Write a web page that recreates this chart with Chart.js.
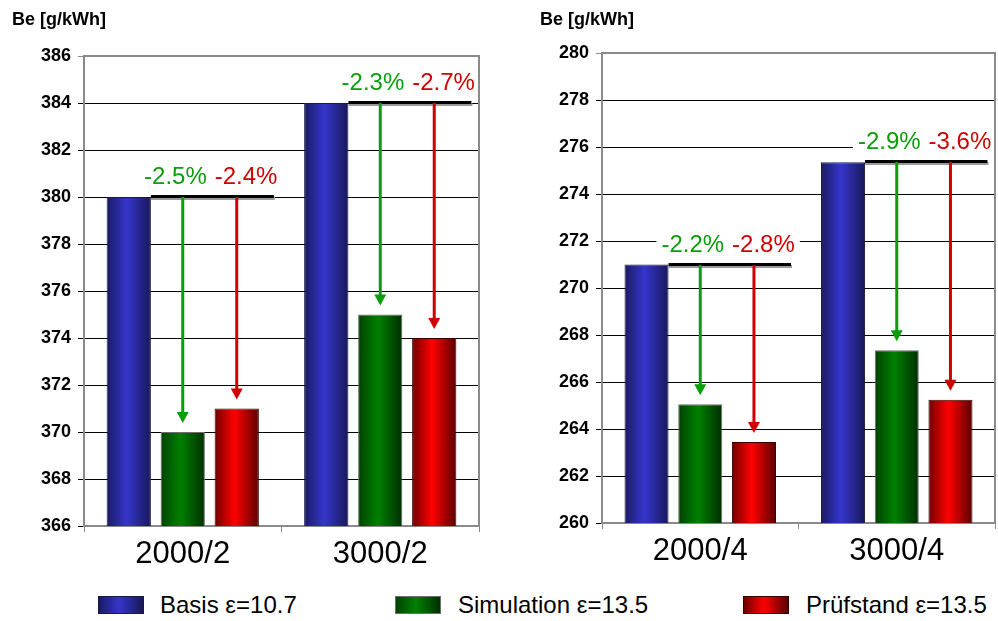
<!DOCTYPE html>
<html>
<head>
<meta charset="utf-8">
<script src="https://cdn.jsdelivr.net/npm/chart.js@4.4.1/dist/chart.umd.min.js"></script>
<style>
    body { margin: 0; background: #fff; width: 998px; height: 621px; position: relative; overflow: hidden;
           font-family: "Liberation Sans", Arial, sans-serif; }
    canvas { position: absolute; top: 0; }
    #left { left: 0; }
    #right { left: 499px; }
    .leg { position: absolute; top: 591px; font-size: 24px; color: #000; white-space: nowrap; line-height: 28px; }
    .sw { position: absolute; top: 596px; width: 44px; height: 16px; border: 1px solid #222; }
</style>
</head>
<body>
<canvas id="left" width="499" height="570"></canvas>
<canvas id="right" width="499" height="570"></canvas>
<div id="legend"></div>
<script>
// --- data ---
const seriesNames = ['Basis \u03b5=10.7', 'Simulation \u03b5=13.5', 'Pr\u00fcfstand \u03b5=13.5'];

const categoriesLeft = ['2000/2', '3000/2'];
const basisLeft = [380, 384];
const simulationLeft = [370, 375];
const pruefstandLeft = [371, 374];
const simDeltaLeft = ['-2.5%', '-2.3%'];
const pruefDeltaLeft = ['-2.4%', '-2.7%'];
const yRangeLeft = [366, 386];

const categoriesRight = ['2000/4', '3000/4'];
const basisRight = [271, 275.35];
const simulationRight = [265.05, 267.35];
const pruefstandRight = [263.45, 265.25];
const simDeltaRight = ['-2.2%', '-2.9%'];
const pruefDeltaRight = ['-2.8%', '-3.6%'];
const yRangeRight = [260, 280];

const yStep = 2;
const yTitle = 'Be [g/kWh]';

// --- style ---
const FONT = '"Liberation Sans", Arial, sans-serif';
const CAT_PCT = 0.82;
const BAR_PCT = 0.82;
const GREEN = '#0a9e0a';
const RED = '#d00000';
const shades = [
    ['#1a1a62', '#3535cc', '#18185a'],
    ['#004200', '#008000', '#002e00'],
    ['#700000', '#ff0000', '#5a0000']
];
const borders = ['#1a1a40', '#6e6e6e', '#3a0000'];

function shade(stops) {
    return function (c) {
        const xs = c.chart.scales.x;
        if (c.type !== 'data' || !xs || !xs.width) return stops[1];
        const cat = xs.width / c.chart.data.labels.length;
        const slot = cat * CAT_PCT / 3;
        const w = slot * BAR_PCT;
        const left = xs.getPixelForValue(c.dataIndex) - cat * CAT_PCT / 2 + slot * c.datasetIndex + (slot - w) / 2;
        if (!isFinite(left) || !isFinite(w)) return stops[1];
        const g = c.chart.ctx.createLinearGradient(left, 0, left + w, 0);
        g.addColorStop(0, stops[0]);
        g.addColorStop(0.45, stops[1]);
        g.addColorStop(1, stops[2]);
        return g;
    };
}

function arrow(ctx, x, y0, y1, color) {
    ctx.save();
    ctx.strokeStyle = color;
    ctx.fillStyle = color;
    ctx.lineWidth = 3;
    ctx.beginPath();
    ctx.moveTo(x, y0);
    ctx.lineTo(x, y1 - 8);
    ctx.stroke();
    ctx.beginPath();
    ctx.moveTo(x - 6, y1 - 11);
    ctx.lineTo(x + 6, y1 - 11);
    ctx.lineTo(x, y1);
    ctx.closePath();
    ctx.fill();
    ctx.restore();
}

// green text right-aligned at xg, red text left-aligned at xr, on a shared white backing
function labelPair(ctx, greenText, redText, xg, xr, y) {
    ctx.save();
    ctx.font = '24px ' + FONT;
    ctx.textBaseline = 'alphabetic';
    const wg = ctx.measureText(greenText).width;
    const wr = ctx.measureText(redText).width;
    ctx.fillStyle = '#fff';
    ctx.fillRect(xg - wg - 5, y - 18, (xr + wr) - (xg - wg) + 10, 21);
    ctx.fillStyle = GREEN;
    ctx.textAlign = 'right';
    ctx.fillText(greenText, xg, y);
    ctx.fillStyle = RED;
    ctx.textAlign = 'left';
    ctx.fillText(redText, xr, y);
    ctx.restore();
}

const deltaPlugin = {
    id: 'delta',
    afterDatasetsDraw(chart, args, opts) {
        const ctx = chart.ctx;
        const y = chart.scales.y;
        const b = chart.getDatasetMeta(0).data;
        const s = chart.getDatasetMeta(1).data;
        const p = chart.getDatasetMeta(2).data;
        b.forEach((bar, i) => {
            const ly = Math.round(y.getPixelForValue(chart.data.datasets[0].data[i]));
            const x0 = bar.x + bar.width / 2;
            const x1 = p[i].x + p[i].width / 2 + 15;
            ctx.fillStyle = '#9a9a9a';
            ctx.fillRect(x0, ly, x1 - x0 + 1, 3);
            ctx.fillStyle = '#000';
            ctx.fillRect(x0, ly - 2, x1 - x0, 3);
            arrow(ctx, s[i].x, ly, s[i].y - 9, GREEN);
            arrow(ctx, p[i].x, ly, p[i].y - 9, RED);
            const mid = (s[i].x + p[i].x) / 2;
            labelPair(ctx, opts.sim[i], opts.pruef[i], mid - 3, mid + 5, ly - 13);
        });
    },
    afterDraw(chart, args, opts) {
        const ctx = chart.ctx;
        const a = chart.chartArea;
        ctx.save();
        ctx.strokeStyle = '#8a8a8a';
        ctx.lineWidth = 2;
        ctx.beginPath();
        ctx.moveTo(a.left, a.top);
        ctx.lineTo(a.right, a.top);
        ctx.lineTo(a.right, a.bottom);
        ctx.stroke();
        ctx.fillStyle = '#000';
        ctx.font = 'bold 18px ' + FONT;
        ctx.textBaseline = 'alphabetic';
        ctx.fillText(yTitle, opts.titleX, 25);
        ctx.restore();
    }
};

function makeChart(id, labels, basis, sim, pruef, simDelta, pruefDelta, range, axisWidth, padding, titleX) {
    const values = [basis, sim, pruef];
    const chart = new Chart(document.getElementById(id), {
        type: 'bar',
        data: {
            labels: labels,
            datasets: values.map((v, k) => ({
                label: seriesNames[k],
                data: v,
                backgroundColor: shade(shades[k]),
                borderColor: borders[k],
                borderWidth: 1,
                categoryPercentage: CAT_PCT,
                barPercentage: BAR_PCT
            }))
        },
        options: {
            responsive: false,
            animation: false,
            devicePixelRatio: 1,
            layout: { padding: padding },
            plugins: {
                legend: { display: false },
                tooltip: { enabled: false },
                delta: { sim: simDelta, pruef: pruefDelta, titleX: titleX }
            },
            scales: {
                x: {
                    afterFit: s => { s.height = 44; },
                    border: { color: '#8a8a8a', width: 2 },
                    grid: { drawOnChartArea: false, tickLength: 6, color: '#8a8a8a', offset: true },
                    ticks: { color: '#000', padding: 4, font: { family: FONT, size: 31 } }
                },
                y: {
                    min: range[0],
                    max: range[1],
                    afterFit: s => { s.width = axisWidth; },
                    border: { color: '#8a8a8a', width: 2 },
                    grid: {
                        color: c => (c.tick && c.tick.value === range[1]) ? '#8a8a8a' : '#000',
                        tickLength: 6,
                        lineWidth: 1
                    },
                    ticks: { stepSize: yStep, color: '#000', padding: 7, font: { family: FONT, size: 18, weight: 'bold' } }
                }
            }
        },
        plugins: [deltaPlugin]
    });
    chart.update();
    return chart;
}

makeChart('left', categoriesLeft, basisLeft, simulationLeft, pruefstandLeft, simDeltaLeft, pruefDeltaLeft,
    yRangeLeft, 84, { top: 56, right: 20, bottom: 0, left: 0 }, 12);
makeChart('right', categoriesRight, basisRight, simulationRight, pruefstandRight, simDeltaRight, pruefDeltaRight,
    yRangeRight, 103, { top: 53, right: 3, bottom: 3, left: 0 }, 41);

// --- legend ---
const swatchLeft = [98, 395, 743];
const textLeft = [160, 458, 806];
const legend = document.getElementById('legend');
seriesNames.forEach((name, k) => {
    const sw = document.createElement('div');
    sw.className = 'sw';
    sw.style.left = swatchLeft[k] + 'px';
    sw.style.background = 'linear-gradient(to right,' + shades[k][0] + ',' + shades[k][1] + ' 45%,' + shades[k][2] + ')';
    sw.style.borderColor = borders[k];
    legend.appendChild(sw);
    const t = document.createElement('div');
    t.className = 'leg';
    t.style.left = textLeft[k] + 'px';
    t.textContent = name;
    legend.appendChild(t);
});
</script>
</body>
</html>
